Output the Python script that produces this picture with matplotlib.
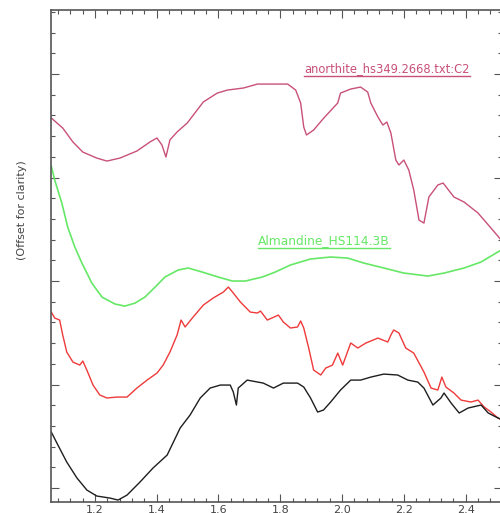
import numpy as np
import matplotlib
matplotlib.use("Agg")
import matplotlib.pyplot as plt
from matplotlib.ticker import MultipleLocator, NullFormatter
from matplotlib.lines import Line2D
from matplotlib.transforms import IdentityTransform

# wavelength (um) and offset reflectance
anorthite_x = [1.059, 1.096, 1.129, 1.161, 1.206, 1.239, 1.281, 1.336, 1.378, 1.401,
               1.417, 1.430, 1.443, 1.466, 1.499, 1.531, 1.551, 1.596, 1.629, 1.681,
               1.726, 1.768, 1.824, 1.850, 1.866, 1.876, 1.885, 1.908, 1.941, 1.986,
               1.995, 2.028, 2.060, 2.083, 2.093, 2.116, 2.132, 2.145, 2.158, 2.174,
               2.184, 2.200, 2.216, 2.232, 2.249, 2.265, 2.281, 2.310, 2.327, 2.362,
               2.395, 2.440, 2.482, 2.515]
anorthite_y = [3.575, 3.478, 3.343, 3.246, 3.188, 3.159, 3.188, 3.256, 3.343, 3.382,
               3.314, 3.198, 3.364, 3.440, 3.527, 3.652, 3.730, 3.816, 3.845, 3.865,
               3.903, 3.903, 3.903, 3.845, 3.720, 3.488, 3.411, 3.459, 3.575, 3.720,
               3.816, 3.855, 3.874, 3.826, 3.720, 3.585, 3.507, 3.536, 3.430, 3.169,
               3.121, 3.169, 3.072, 2.879, 2.589, 2.560, 2.812, 2.928, 2.947, 2.812,
               2.763, 2.657, 2.512, 2.396]

almandine_x = [1.059, 1.070, 1.093, 1.112, 1.135, 1.158, 1.190, 1.223, 1.265, 1.297,
               1.330, 1.362, 1.395, 1.427, 1.469, 1.502, 1.547, 1.599, 1.645, 1.687,
               1.742, 1.784, 1.833, 1.898, 1.963, 2.018, 2.070, 2.135, 2.200, 2.278,
               2.330, 2.395, 2.450, 2.515]
almandine_y = [3.110, 2.976, 2.754, 2.522, 2.329, 2.174, 1.981, 1.845, 1.778, 1.758,
               1.787, 1.845, 1.942, 2.039, 2.106, 2.126, 2.087, 2.039, 2.000, 2.000,
               2.039, 2.087, 2.155, 2.213, 2.232, 2.222, 2.174, 2.126, 2.077, 2.048,
               2.077, 2.126, 2.184, 2.300]

red_x = [1.059, 1.070, 1.086, 1.096, 1.109, 1.129, 1.151, 1.161, 1.174, 1.194,
         1.216, 1.239, 1.271, 1.304, 1.336, 1.369, 1.401, 1.421, 1.443, 1.466,
         1.479, 1.492, 1.518, 1.551, 1.583, 1.616, 1.632, 1.648, 1.671, 1.703,
         1.726, 1.736, 1.758, 1.794, 1.810, 1.833, 1.856, 1.866, 1.876, 1.892,
         1.908, 1.931, 1.947, 1.969, 1.986, 2.002, 2.028, 2.051, 2.077, 2.116,
         2.148, 2.158, 2.167, 2.184, 2.206, 2.232, 2.265, 2.288, 2.310, 2.323,
         2.336, 2.362, 2.385, 2.417, 2.440, 2.460, 2.482, 2.505, 2.515]
red_y = [1.700, 1.643, 1.623, 1.478, 1.314, 1.217, 1.188, 1.227, 1.140, 0.995,
         0.899, 0.870, 0.879, 0.879, 0.966, 1.043, 1.111, 1.188, 1.314, 1.478,
         1.623, 1.556, 1.652, 1.768, 1.836, 1.894, 1.942, 1.884, 1.797, 1.700,
         1.691, 1.710, 1.623, 1.671, 1.604, 1.546, 1.556, 1.614, 1.546, 1.353,
         1.140, 1.092, 1.159, 1.188, 1.304, 1.188, 1.401, 1.353, 1.401, 1.449,
         1.411, 1.478, 1.527, 1.498, 1.353, 1.304, 1.121, 0.966, 0.947, 1.072,
         0.976, 0.918, 0.850, 0.831, 0.850, 0.783, 0.734, 0.676, 0.660]

black_x = [1.059, 1.077, 1.109, 1.142, 1.174, 1.206, 1.249, 1.275, 1.304, 1.346,
           1.388, 1.434, 1.476, 1.508, 1.541, 1.573, 1.606, 1.638, 1.648, 1.658,
           1.664, 1.693, 1.745, 1.778, 1.810, 1.856, 1.876, 1.898, 1.921, 1.940,
           1.963, 1.995, 2.028, 2.060, 2.093, 2.135, 2.180, 2.213, 2.245, 2.265,
           2.294, 2.320, 2.330, 2.353, 2.379, 2.408, 2.450, 2.473, 2.505, 2.515]
black_y = [0.541, 0.435, 0.251, 0.097, -0.019, -0.077, -0.097, -0.116, -0.068, 0.058,
           0.193, 0.319, 0.580, 0.705, 0.870, 0.966, 0.995, 0.995, 0.928, 0.802,
           0.966, 1.043, 1.014, 0.966, 1.014, 1.014, 0.976, 0.870, 0.734, 0.754,
           0.831, 0.947, 1.043, 1.043, 1.072, 1.101, 1.092, 1.043, 1.024, 0.966,
           0.802, 0.870, 0.918, 0.821, 0.725, 0.773, 0.802, 0.725, 0.676, 0.665]

label_anorthite = "anorthite_hs349.2668.txt:C2"
label_almandine = "Almandine_HS114.3B"

c_anorthite = "#c8507a"
c_almandine = "#66e866"
c_red = "#ee3a3a"
c_black = "#1e1e1e"
axis_gray = "#555555"

fig = plt.figure(figsize=(5.0, 5.13), dpi=100)
ax = fig.add_axes([0.102, 0.0214, 0.901, 0.959])

ax.plot(anorthite_x, anorthite_y, color=c_anorthite, lw=1.0)
ax.plot(almandine_x, almandine_y, color=c_almandine, lw=1.2)
ax.plot(red_x, red_y, color=c_red, lw=1.0)
ax.plot(black_x, black_y, color=c_black, lw=1.0)

ax.set_xlim(1.058, 2.516)
ax.set_ylim(-0.135, 4.618)

ax.xaxis.set_major_locator(MultipleLocator(0.2))
ax.xaxis.set_minor_locator(MultipleLocator(0.04))
ax.yaxis.set_major_locator(MultipleLocator(1.0))
ax.yaxis.set_minor_locator(MultipleLocator(0.2))
ax.yaxis.set_major_formatter(NullFormatter())
ax.tick_params(which="both", direction="in", top=True, right=True,
               color=axis_gray, width=0.8)
ax.tick_params(which="major", length=6)
ax.tick_params(which="minor", length=3)
ax.tick_params(axis="x", which="major", labelsize=8, labelcolor="#444444", pad=2.5)
for sp in ax.spines.values():
    sp.set_color(axis_gray)
    sp.set_linewidth(1.2)

ax.text(-0.065, 0.593, "(Offset for clarity)", transform=ax.transAxes,
        rotation=90, ha="center", va="center", fontsize=8, color="#444444")

t1 = ax.text(2.145, 3.99, label_anorthite, ha="center", va="bottom",
             fontsize=8.3, color=c_anorthite)
t2 = ax.text(1.942, 2.33, label_almandine, ha="center", va="bottom",
             fontsize=8.8, color=c_almandine)

# underline the curve labels
fig.canvas.draw()
for t, c in [(t1, c_anorthite), (t2, c_almandine)]:
    bb = t.get_window_extent()
    fig.add_artist(Line2D([bb.x0, bb.x1], [bb.y0 - 1, bb.y0 - 1],
                          transform=IdentityTransform(), color=c, lw=1.0))

fig.savefig("out.png", dpi=100)
